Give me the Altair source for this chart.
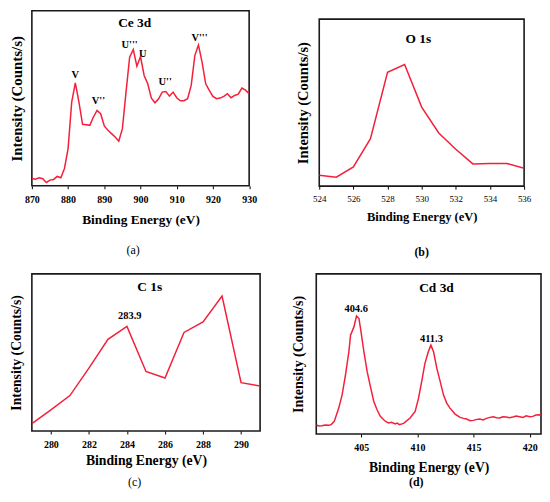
import altair as alt
import pandas as pd

FONT = "Liberation Serif"
RED = "#f41f3a"

# ---------------- data ----------------
# (a) Ce 3d
ce_E = list(range(870, 931))
ce_I = [22, 20, 24, 21, 10, 17, 19, 28, 24, 52,
        112, 252, 310, 252, 185, 184, 182, 207, 227, 217,
        180, 167, 157, 147, 134, 172, 282, 387, 410, 360,
        389, 332, 307, 264, 250, 262, 282, 284, 270, 282,
        265, 256, 256, 262, 302, 392, 424, 372, 307, 287,
        269, 262, 264, 269, 277, 265, 272, 276, 294, 288, 277]
ce_lab_E = [882.0, 888.4, 897.0, 900.6, 906.8, 916.3]
ce_lab_I = [333, 255, 425, 398, 313, 445]
ce_lab_T = ["V", "V''", "U'''", "U", "U''", "V'''"]

# (b) O 1s
o_E = list(range(524, 537))
o_I = [33, 27, 58, 143, 343, 366, 238, 160, 111, 67, 68, 68, 54]

# (c) C 1s
c_E = list(range(279, 292))
c_I = [22, 64, 107, 190, 277, 316, 180, 160, 298, 330, 408, 146, 136]
c_lab_E = [284.15]
c_lab_I = [347]
c_lab_T = ["283.9"]

# (d) Cd 3d
cd_E = [401.0, 401.25, 401.5, 401.8, 402.15, 402.35, 402.6, 403.0, 403.3, 403.6,
        403.9, 404.05, 404.35, 404.58, 404.8, 404.94, 405.24, 405.53, 405.82, 406.12,
        406.41, 406.7, 407.0, 407.2, 407.44, 407.7, 408.03, 408.2, 408.4, 408.77,
        409.35, 409.8, 410.1, 410.38, 410.67, 410.97, 411.2, 411.44, 411.73, 412.03,
        412.32, 412.61, 412.9, 413.35, 413.8, 414.1, 414.38, 414.7, 414.97, 415.3,
        415.56, 415.85, 416.15, 416.45, 416.74, 417.05, 417.33, 417.6, 417.9, 418.2,
        418.5, 418.8, 419.1, 419.4, 419.68, 420.0, 420.27, 420.55, 420.86, 421.0]
cd_I = [27, 24, 25, 27, 26, 29, 38, 78, 118, 178,
        248, 298, 323, 356, 348, 318, 248, 188, 143, 98,
        73, 53, 43, 37, 33, 35, 30, 33, 28, 32,
        48, 68, 108, 158, 213, 248, 268, 248, 198, 158,
        118, 93, 78, 60, 50, 47, 45, 40, 41, 44,
        45, 42, 47, 50, 52, 49, 48, 52, 51, 49,
        51, 54, 52, 50, 55, 52, 53, 57, 58, 57]
cd_lab_E = [404.55, 411.25]
cd_lab_I = [376, 285]
cd_lab_T = ["404.6", "411.3"]

names = ["Ce 3d", "O 1s", "C 1s", "Cd 3d"]
name_E = [898.4, 529.8, 285.2, 411.7]
name_I = [490, 443, 435, 440]


def panel(E, I, xdom, ydom, xticks, w, h, name_idx, lab=None,
          lab_w="bold", lab_size=10, xt_size=13, yt_size=14, yt_pad=8,
          lab_pad=7, xt_pad=9, caption="(a)", cap_w="normal", cap_off=14,
          cap_frame="bounds", extra=0):
    df = pd.DataFrame({"E": E, "I": I})
    xs = alt.Scale(domain=xdom, nice=False, zero=False)
    ys = alt.Scale(domain=ydom, nice=False, zero=False)
    xaxis = alt.Axis(values=xticks, tickCount=len(xticks),
                     title="Binding Energy (eV)", format="d",
                     titleFont=FONT, titleFontSize=xt_size, titleFontWeight="bold",
                     titleColor="black", titlePadding=xt_pad,
                     labelFont=FONT, labelFontSize=lab_size, labelFontWeight=lab_w,
                     labelColor="black", labelFlush=False, labelOverlap=False,
                     labelPadding=lab_pad,
                     tickSize=3, tickColor="black", domain=False, grid=False)
    yaxis = alt.Axis(title="Intensity (Counts/s)", labels=False, ticks=False,
                     domain=False, grid=False, titleFont=FONT,
                     titleFontSize=yt_size, titleFontWeight="bold",
                     titleColor="black", titlePadding=yt_pad)
    line = alt.Chart(df).mark_line(color=RED, strokeWidth=1.5, clip=True).encode(
        x=alt.X("E:Q", scale=xs, axis=xaxis),
        y=alt.Y("I:Q", scale=ys, axis=yaxis),
    )
    ndf = pd.DataFrame({"E": [name_E[name_idx]], "I": [name_I[name_idx]],
                        "T": [names[name_idx]]})
    name = alt.Chart(ndf).mark_text(font=FONT, fontSize=13.5, fontWeight="bold",
                                    color="black", baseline="middle").encode(
        x="E:Q", y="I:Q", text="T:N")
    layers = [line, name]
    if lab is not None:
        ldf = pd.DataFrame({"E": lab[0], "I": lab[1], "T": lab[2]})
        layers.append(alt.Chart(ldf).mark_text(font=FONT, fontSize=10.5,
                                               fontWeight="bold", color="black",
                                               baseline="middle").encode(
            x="E:Q", y="I:Q", text="T:N"))
    tkw = dict(orient="bottom", font=FONT, fontSize=12, fontWeight=cap_w,
               color="black", offset=cap_off, anchor="middle", frame=cap_frame)
    if extra:
        tkw.update(subtitle="\u00a0", subtitleFontSize=extra, subtitlePadding=0)
    return alt.layer(*layers).properties(
        width=w, height=h, title=alt.TitleParams(caption, **tkw))


pa = panel(ce_E, ce_I, [870, 930], [0, 527], list(range(870, 931, 10)), 218.5, 176, 0,
           lab=(ce_lab_E, ce_lab_I, ce_lab_T), lab_w="bold", lab_size=10,
           xt_size=13.4, yt_size=15, yt_pad=7.5, lab_pad=6, xt_pad=8,
           caption="(a)", cap_w="normal", cap_off=19, extra=10)
pb = panel(o_E, o_I, [524, 536], [0, 503], list(range(524, 537, 2)), 206, 168, 1,
           lab=None, lab_w="normal", lab_size=9, xt_size=12.6, yt_size=14.6,
           yt_pad=8.7, lab_pad=5, xt_pad=8, caption="(b)", cap_w="bold",
           cap_off=24, cap_frame="group")
pc = panel(c_E, c_I, [279, 291], [0, 475], list(range(280, 291, 2)), 229.5, 158, 2,
           lab=(c_lab_E, c_lab_I, c_lab_T), lab_w="bold", lab_size=10,
           xt_size=13.8, yt_size=13.8, yt_pad=8.7, lab_pad=6, xt_pad=4,
           caption="(c)", cap_w="normal", cap_off=10)
pd_ = panel(cd_E, cd_I, [401, 421], [0, 483], [405, 410, 415, 420], 226, 161, 3,
            lab=(cd_lab_E, cd_lab_I, cd_lab_T), lab_w="bold", lab_size=10,
            xt_size=13.7, yt_size=14, yt_pad=11, lab_pad=6, xt_pad=8,
            caption="(d)", cap_w="bold", cap_off=3)

row1 = alt.hconcat(pa, pb, spacing=37, center=True).resolve_scale(
    x="independent", y="independent")
row2 = alt.hconcat(pc, pd_, spacing=29).resolve_scale(x="independent", y="independent")

chart = alt.vconcat(row1, row2, spacing=5).resolve_scale(
    x="independent", y="independent"
).properties(background="white", padding=0).configure_view(
    stroke="#1a1a1a", strokeWidth=1.6
)

chart.save("out.html", embed_options={"renderer": "svg", "actions": False})
